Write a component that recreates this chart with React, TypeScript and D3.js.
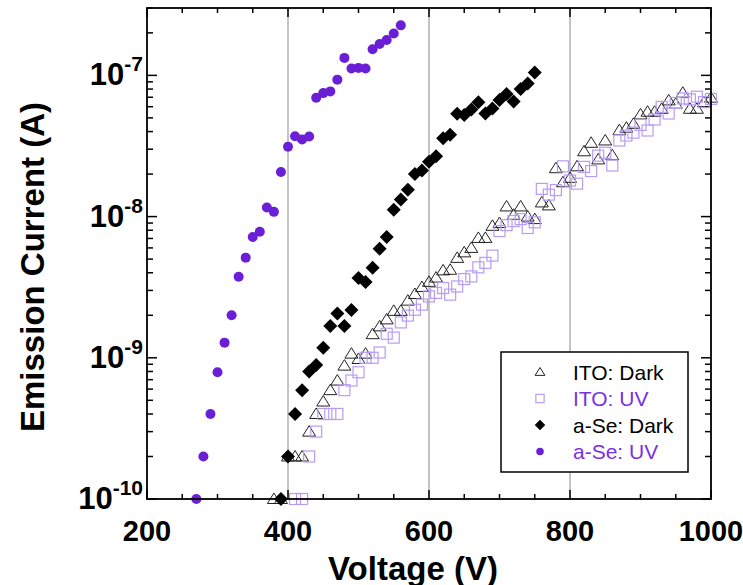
import React from "react";
import * as d3 from "d3";

const W = 743;
const H = 585;
const M = { left: 147, right: 711, top: 8, bottom: 499 };

// a-Se: UV (purple circles)
const aseUvV = [270, 280, 290, 300, 310, 320, 330, 340, 350, 360, 370, 380, 390, 400, 410, 420, 430, 440, 450, 460, 470, 480, 490, 500, 510, 520, 530, 540, 550, 560];
const aseUvI = [1e-10, 2e-10, 4e-10, 7.9e-10, 1.28e-9, 2e-9, 3.75e-9, 5.12e-9, 7.16e-9, 7.8e-9, 1.16e-8, 1.08e-8, 2.07e-8, 3.12e-8, 3.71e-8, 3.52e-8, 3.69e-8, 6.95e-8, 7.49e-8, 7.7e-8, 9.33e-8, 1.33e-7, 1.12e-7, 1.13e-7, 1.12e-7, 1.53e-7, 1.67e-7, 1.78e-7, 1.98e-7, 2.26e-7];

// a-Se: Dark (black diamonds)
const aseDarkV = [390, 400, 410, 420, 430, 440, 450, 460, 470, 480, 490, 500, 510, 520, 530, 540, 550, 560, 570, 580, 590, 600, 610, 620, 630, 640, 650, 660, 670, 680, 690, 700, 710, 720, 730, 740, 750];
const aseDarkI = [1e-10, 2e-10, 4e-10, 5.9e-10, 8e-10, 8.9e-10, 1.18e-9, 1.68e-9, 2.06e-9, 1.68e-9, 2.18e-9, 3.68e-9, 3.44e-9, 4.35e-9, 5.93e-9, 7.17e-9, 1.12e-8, 1.32e-8, 1.55e-8, 2.0e-8, 2.12e-8, 2.45e-8, 2.68e-8, 3.59e-8, 3.79e-8, 5.35e-8, 5.23e-8, 5.74e-8, 6.44e-8, 5.37e-8, 5.83e-8, 6.68e-8, 7.37e-8, 6.54e-8, 8.0e-8, 8.77e-8, 1.05e-7];

// ITO: Dark (open triangles)
const itoDarkV = [380, 390, 400, 410, 420, 430, 440, 450, 460, 470, 480, 490, 500, 510, 520, 530, 540, 550, 560, 570, 580, 590, 600, 610, 620, 630, 640, 650, 660, 670, 680, 690, 700, 710, 720, 730, 740, 750, 760, 770, 780, 790, 800, 810, 820, 830, 840, 850, 860, 870, 880, 890, 900, 910, 920, 930, 940, 950, 960, 970, 980, 990, 1000];
const itoDarkI = [1e-10, 1e-10, 2e-10, 2e-10, 2e-10, 3e-10, 4e-10, 4.9e-10, 5.9e-10, 6.9e-10, 8.8e-10, 1.07e-9, 0.98e-9, 1.07e-9, 1.47e-9, 1.67e-9, 1.87e-9, 2.15e-9, 2.15e-9, 2.54e-9, 2.83e-9, 3.17e-9, 3.45e-9, 3.7e-9, 4.16e-9, 4.2e-9, 5.1e-9, 5.58e-9, 6.0e-9, 7.06e-9, 7.06e-9, 8.6e-9, 9.0e-9, 1.18e-8, 1.03e-8, 1.18e-8, 1.0e-8, 0.96e-8, 1.26e-8, 1.2e-8, 2.2e-8, 1.75e-8, 1.88e-8, 2.27e-8, 2.9e-8, 3.33e-8, 2.54e-8, 3.46e-8, 2.72e-8, 4.09e-8, 4.26e-8, 4.54e-8, 5.29e-8, 5.53e-8, 5.53e-8, 5.8e-8, 6.65e-8, 6.3e-8, 7.54e-8, 5.8e-8, 5.8e-8, 6.46e-8, 6.95e-8];

// ITO: UV (open squares)
const itoUvV = [410, 420, 430, 440, 450, 460, 470, 480, 490, 500, 510, 520, 530, 540, 550, 560, 570, 580, 590, 600, 610, 620, 630, 640, 650, 660, 670, 680, 690, 700, 710, 720, 730, 740, 750, 760, 770, 780, 790, 800, 810, 820, 830, 840, 850, 860, 870, 880, 890, 900, 910, 920, 930, 940, 950, 960, 970, 980, 990, 1000];
const itoUvI = [1e-10, 1e-10, 2e-10, 3e-10, 4e-10, 4e-10, 4e-10, 5.9e-10, 6.9e-10, 7.9e-10, 1e-9, 1e-9, 1.09e-9, 1.48e-9, 1.39e-9, 1.78e-9, 1.99e-9, 2.19e-9, 2.38e-9, 2.72e-9, 2.88e-9, 3.12e-9, 2.8e-9, 3.2e-9, 3.61e-9, 3.77e-9, 4.37e-9, 4.7e-9, 5.29e-9, 7.9e-9, 8.7e-9, 9.3e-9, 9.6e-9, 8.3e-9, 9.1e-9, 1.57e-8, 1.43e-8, 1.54e-8, 2.27e-8, 1.8e-8, 1.71e-8, 2.25e-8, 2.1e-8, 2.7e-8, 2.83e-8, 2.3e-8, 3.46e-8, 3.75e-8, 3.93e-8, 4.46e-8, 4.07e-8, 4.87e-8, 5.98e-8, 5.37e-8, 6.38e-8, 6.87e-8, 6.76e-8, 7.06e-8, 6.46e-8, 6.81e-8];

const xTicks = [200, 400, 600, 800, 1000];
const xMinor = [250, 300, 350, 450, 500, 550, 650, 700, 750, 850, 900, 950];
const yExps = [-10, -9, -8, -7];
const gridV = [400, 600, 800];
const legendLabels = ["ITO: Dark", "ITO: UV", "a-Se: Dark", "a-Se: UV"];

const PURPLE = "#6a1fd6";
const PURPLE_TEXT = "#7a30e2";
const LAVENDER = "#b89cf2";
const FONT = "'Liberation Sans', Arial, Helvetica, sans-serif";

const x = d3.scaleLinear().domain([200, 1000]).range([M.left, M.right]);
const y = d3.scaleLog().domain([1e-10, 3e-7]).range([M.bottom, M.top]);

const yMinor: number[] = [];
for (const e of [-10, -9, -8, -7]) {
  for (let k = 2; k <= 9; k++) {
    const v = k * Math.pow(10, e);
    if (v <= 3e-7) yMinor.push(v);
  }
}

const triPath = "M0,-6L6.5,4.5L-6.5,4.5Z";
const diamondPath = "M0,-7L7,0L0,7L-7,0Z";

function Marker({ kind, cx, cy, scale = 1 }: { kind: number; cx: number; cy: number; scale?: number }) {
  const t = `translate(${cx},${cy}) scale(${scale})`;
  if (kind === 0) return <path d={triPath} transform={t} fill="none" stroke="#222" strokeWidth={1 / scale} />;
  if (kind === 1) return <rect x={-5.5} y={-5.5} width={11} height={11} transform={t} fill="none" stroke={LAVENDER} strokeWidth={1.2 / scale} />;
  if (kind === 2) return <path d={diamondPath} transform={t} fill="#000" />;
  return <circle r={5} transform={t} fill={PURPLE} />;
}

export default function App() {
  const series = [
    { kind: 0, V: itoDarkV, I: itoDarkI },
    { kind: 1, V: itoUvV, I: itoUvI },
    { kind: 2, V: aseDarkV, I: aseDarkI },
    { kind: 3, V: aseUvV, I: aseUvI },
  ];
  const legendY = [372, 398.5, 425, 451.5];
  return (
    <svg width={W} height={H} style={{ position: "absolute", left: 0, top: 0, background: "#fff" }} fontFamily={FONT}>
      <rect x={0} y={0} width={W} height={H} fill="#fff" />
      {gridV.map((v) => (
        <line key={v} x1={x(v)} x2={x(v)} y1={M.top} y2={M.bottom} stroke="#8a8a8a" strokeWidth={1} />
      ))}
      {xTicks.map((v) => (
        <g key={"xt" + v}>
          <line x1={x(v)} x2={x(v)} y1={M.bottom} y2={M.bottom - 9} stroke="#000" strokeWidth={1.5} />
          <line x1={x(v)} x2={x(v)} y1={M.top} y2={M.top + 9} stroke="#000" strokeWidth={1.5} />
        </g>
      ))}
      {xMinor.map((v) => (
        <g key={"xm" + v}>
          <line x1={x(v)} x2={x(v)} y1={M.bottom} y2={M.bottom - 5} stroke="#000" strokeWidth={1.5} />
          <line x1={x(v)} x2={x(v)} y1={M.top} y2={M.top + 5} stroke="#000" strokeWidth={1.5} />
        </g>
      ))}
      {yExps.map((e) => {
        const yy = y(Math.pow(10, e));
        return (
          <g key={"yt" + e}>
            <line x1={M.left} x2={M.left + 10} y1={yy} y2={yy} stroke="#000" strokeWidth={1.5} />
            <line x1={M.right} x2={M.right - 10} y1={yy} y2={yy} stroke="#000" strokeWidth={1.5} />
          </g>
        );
      })}
      {yMinor.map((v, i) => {
        const yy = y(v);
        return (
          <g key={"ym" + i}>
            <line x1={M.left} x2={M.left + 6} y1={yy} y2={yy} stroke="#000" strokeWidth={1.5} />
            <line x1={M.right} x2={M.right - 6} y1={yy} y2={yy} stroke="#000" strokeWidth={1.5} />
          </g>
        );
      })}
      {series.map((s) => (
        <g key={"s" + s.kind}>
          {s.V.map((v, i) => (
            <Marker key={i} kind={s.kind} cx={x(v)} cy={y(s.I[i])} />
          ))}
        </g>
      ))}
      <rect x={M.left} y={M.top} width={M.right - M.left} height={M.bottom - M.top} fill="none" stroke="#000" strokeWidth={1.8} />
      {xTicks.map((v) => (
        <text key={"xl" + v} x={x(v)} y={541} textAnchor="middle" fontSize={29} fontWeight="bold">
          {v}
        </text>
      ))}
      {yExps.map((e) => (
        <text key={"yl" + e} x={143} y={y(Math.pow(10, e)) + 10} textAnchor="end" fontSize={31} fontWeight="bold">
          10
          <tspan dy={-14} fontSize={21}>{e}</tspan>
        </text>
      ))}
      <text x={413} y={580} textAnchor="middle" fontSize={33} fontWeight="bold">
        Voltage (V)
      </text>
      <text transform={`translate(44,267) rotate(-90)`} textAnchor="middle" fontSize={33} fontWeight="bold">
        Emission Current (A)
      </text>
      <rect x={501} y={352} width={187} height={120} fill="#fff" stroke="#000" strokeWidth={1.5} />
      {legendLabels.map((lab, i) => (
        <g key={"lg" + i}>
          <Marker kind={i} cx={540} cy={legendY[i]} scale={0.75} />
          <text x={573} y={legendY[i] + 7.5} fontSize={21} fill={i % 2 === 1 ? PURPLE_TEXT : "#000"}>
            {lab}
          </text>
        </g>
      ))}
    </svg>
  );
}
